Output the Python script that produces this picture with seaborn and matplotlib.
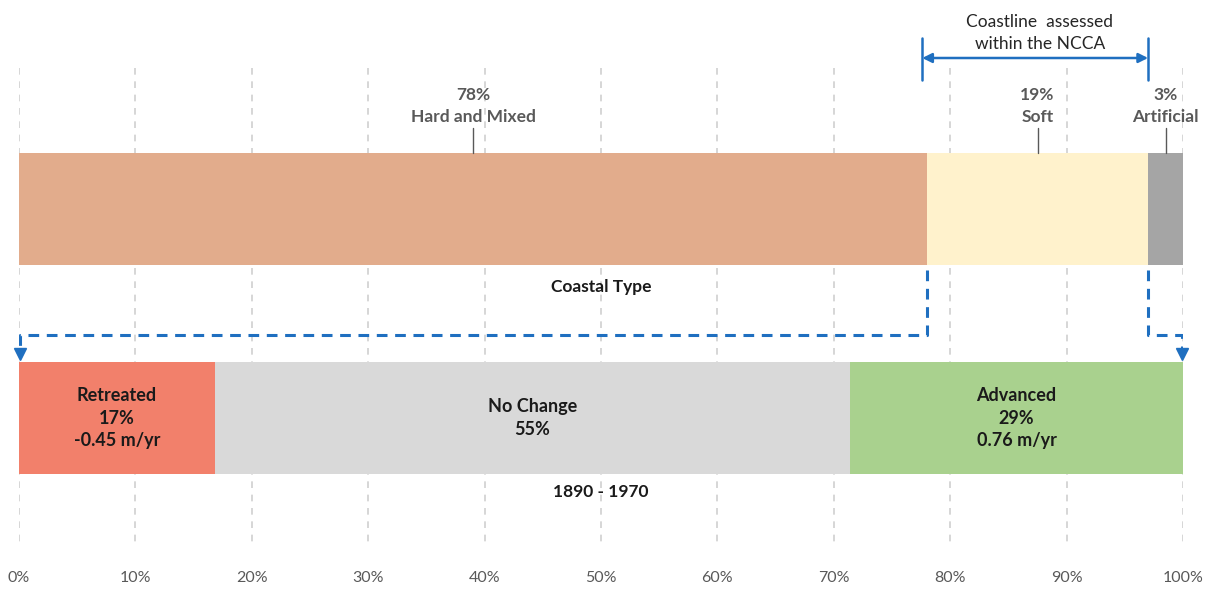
import numpy as np
import pandas as pd
import matplotlib
matplotlib.use("Agg")
import matplotlib.pyplot as plt
import seaborn as sns

# datos
rows = ["Coastal Type", "1890 - 1970"]
type_names = ["Hard and Mixed", "Soft", "Artificial"]
type_pct = [78, 19, 3]
change_names = ["Retreated", "No Change", "Advanced"]
change_pct = [16.8, 54.6, 28.6]
change_rate = ["-0.45 m/yr", "", "0.76 m/yr"]
ticks = [0, 10, 20, 30, 40, 50, 60, 70, 80, 90, 100]

type_colors = ["#E2AC8C", "#FFF2CC", "#A5A5A5"]
change_colors = ["#F2806B", "#D9D9D9", "#A9D18E"]
BLUE = "#1F6FC0"

sns.set_theme(style="white")
plt.rcParams["font.family"] = ["Lato", "DejaVu Sans"]

fig = plt.figure(figsize=(12.1, 5.89), dpi=100)
ax = fig.add_axes([19 / 1210, 0, 1164 / 1210, 1])


def py(p):
    # pixel vertical -> coordenada de datos (categoría 0 en 209 px, 1 en 418 px)
    return (p - 209) / 209


# grid vertical punteado
ax.vlines(ticks, py(68), py(545), colors="#D0D0D0", linestyles=(0, (4, 4)),
          linewidth=1.2, zorder=0)
for t in ticks:
    ax.text(t, py(578), f"{t}%", ha="center", va="center", fontsize=11.5,
            color="#595959")

# barras apiladas: se dibujan los acumulados de mayor a menor
stacks = [(rows[0], type_pct, type_colors), (rows[1], change_pct, change_colors)]
for row, vals, cols in stacks:
    cum = np.cumsum(vals)
    for end, c in list(zip(cum, cols))[::-1]:
        df = pd.DataFrame({"row": [row], "val": [end]})
        sns.barplot(data=df, x="val", y="row", order=rows, orient="h",
                    color=c, saturation=1, width=0.536, linewidth=0,
                    edgecolor=c, ax=ax, zorder=2)
ax.set_xlim(0, 100)
ax.set_ylim(py(589), py(0))
ax.axis("off")

# etiquetas del tipo de costa
cum_t = np.concatenate([[0], np.cumsum(type_pct)])
for i, (name, v) in enumerate(zip(type_names, type_pct)):
    mid = (cum_t[i] + cum_t[i + 1]) / 2
    ax.text(mid, py(106), f"{v}%\n{name}", ha="center", va="center",
            fontsize=12.5, fontweight="bold", color="#595959", linespacing=1.4)
    ax.plot([mid, mid], [py(128), py(153)], color="#595959", lw=1, zorder=3)

# etiquetas del cambio
cum_c = np.concatenate([[0], np.cumsum(change_pct)])
for i, (name, v, r) in enumerate(zip(change_names, change_pct, change_rate)):
    mid = (cum_c[i] + cum_c[i + 1]) / 2
    txt = f"{name}\n{round(v)}%" + (f"\n{r}" if r else "")
    ax.text(mid, py(418), txt, ha="center", va="center",
            fontsize=13, fontweight="bold", color="#1A1A1A", linespacing=1.4,
            zorder=4)

ax.text(50, py(287), rows[0], ha="center", va="center", fontsize=12.5,
        fontweight="bold", color="#1A1A1A")
ax.text(50, py(492), rows[1], ha="center", va="center", fontsize=12.5,
        fontweight="bold", color="#1A1A1A")

# corchete NCCA
x0, x1 = 77.6, 97.0
ax.plot([x0, x0], [py(38), py(80)], color=BLUE, lw=1.8)
ax.plot([x1, x1], [py(38), py(80)], color=BLUE, lw=1.8)
ax.annotate("", xy=(x0, py(58)), xytext=(x1, py(58)),
            arrowprops=dict(arrowstyle="<|-|>", color=BLUE, lw=1.8,
                            mutation_scale=14, shrinkA=0, shrinkB=0))
ax.text(87.7, py(33), "Coastline  assessed\nwithin the NCCA", ha="center",
        va="center", fontsize=12.5, color="#262626", linespacing=1.4)

# líneas discontinuas de conexión
dash = (0, (3.5, 2.5))
ax.plot([78, 78, 0.1, 0.1], [py(270), py(335), py(335), py(350)],
        color=BLUE, lw=2.2, linestyle=dash, zorder=3)
ax.plot([97, 97, 99.9, 99.9], [py(270), py(335), py(335), py(350)],
        color=BLUE, lw=2.2, linestyle=dash, zorder=3)
ax.plot([0.1, 99.9], [py(354), py(354)], linestyle="none", marker="v",
        markersize=8, color=BLUE, zorder=3, clip_on=False)

fig.savefig("out.png", dpi=100)
